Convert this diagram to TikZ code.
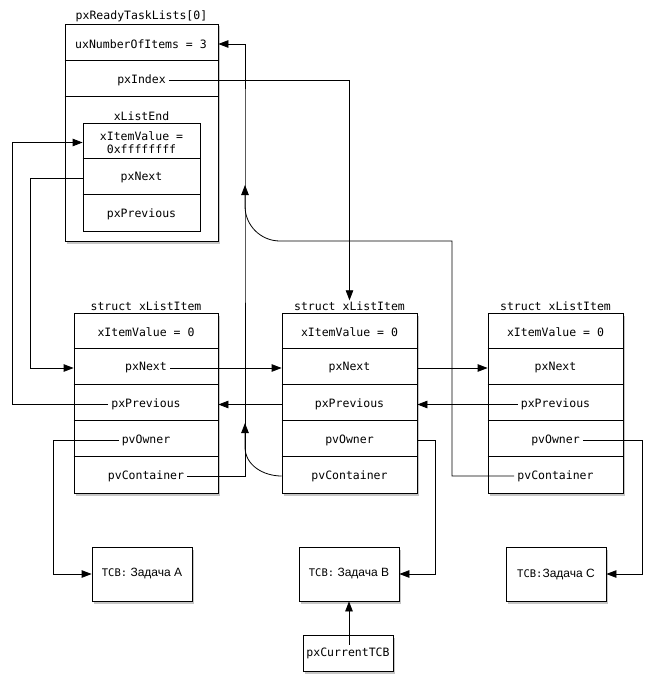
\documentclass[tikz,border=0pt]{standalone}
\usepackage{fontspec}
\setmainfont{Liberation Sans}
\setmonofont{DejaVu Sans Mono}
\usetikzlibrary{positioning, arrows.meta, calc, shadows}
\tikzset{
  box/.style={
    draw, line width=0.8pt, fill=white, inner sep=0pt,
    drop shadow={shadow xshift=1.5pt, shadow yshift=-2.5pt, opacity=0.45}
  },
  inbox/.style={draw, line width=0.8pt, fill=white, inner sep=0pt},
  field/.style={font=\ttfamily\fontsize{11.5}{13}\selectfont, inner xsep=3pt, inner ysep=1pt, align=center},
  caption/.style={field, anchor=south, inner ysep=1.5pt},
  tcb/.style={box, minimum width=100pt, minimum height=54pt, font=\fontsize{12}{14}\selectfont},
  link/.style={line width=0.8pt},
  ptr/.style={line width=0.8pt, -{Triangle[length=10pt, width=7.5pt]}},
}
\newcommand{\tcbtag}{{\ttfamily\fontsize{10.5}{12}\selectfont TCB:}}

\begin{document}
\begin{tikzpicture}[x=1pt, y=-1pt]
  \useasboundingbox (0,0) rectangle (652,695);

  % pxReadyTaskLists[0]
  \node[box, minimum width=153pt, minimum height=217pt] (list) at (141.5,132.5) {};
  \node[caption] (listname) at (list.north) {pxReadyTaskLists[0]};
  \foreach \y in {37,73}
    \draw[link] ($(list.north west)+(0,\y)$) -- ($(list.north east)+(0,\y)$);
  \node[field] (count) at (141,44) {uxNumberOfItems = 3};
  \node[field] (index) at (141.5,80) {pxIndex};

  % xListEnd
  \node[inbox, minimum width=117pt, minimum height=108pt] (lend) at (141.5,177) {};
  \node[caption] (lendname) at (lend.north) {xListEnd};
  \foreach \y in {36,72}
    \draw[link] ($(lend.north west)+(0,\y)$) -- ($(lend.north east)+(0,\y)$);
  \node[field] (lendval) at (141.5,142.5) {xItemValue =\\0xffffffff};
  \node[field] (lendnext) at (141.5,178) {pxNext};
  \node[field] (lendprev) at (141.5,214) {pxPrevious};

  % list items
  \foreach \n/\x/\w in {1/146/144, 2/349.5/135, 3/555.5/135} {
    \node[box, minimum width=\w pt, minimum height=180pt] (item\n) at (\x,403) {};
    \node[caption] (item\n name) at (item\n.north) {struct xListItem};
    \foreach \y in {36,72,108,144}
      \draw[link] ($(item\n.north west)+(0,\y)$) -- ($(item\n.north east)+(0,\y)$);
    \node[field] (val\n) at (\x,332) {xItemValue = 0};
    \node[field] (next\n) at (\x,368) {pxNext};
    \node[field] (prev\n) at (\x,404.5) {pxPrevious};
    \node[field] (owner\n) at (\x,440.5) {pvOwner};
    \node[field] (cont\n) at (\x,476) {pvContainer};
  }

  % tasks
  \node[tcb] (tcbA) at (142,574) {\tcbtag{} Задача A};
  \node[tcb] (tcbB) at (349,574) {\tcbtag{} Задача B};
  \node[tcb] (tcbC) at (556,574) {\tcbtag{}Задача C};
  \node[box, field, minimum width=90pt, minimum height=36pt] (cur) at (348,653) {pxCurrentTCB};

  % rails
  \coordinate (spine) at (245,132.5);
  \coordinate (nextrail) at (30,368);
  \coordinate (prevrail) at (12,142.5);
  \coordinate (c3turn) at (452,241);
  \coordinate (c3bend) at (280,241);
  \coordinate (c3rise) at (245,206);
  \coordinate (c3tip) at (245,185);
  \coordinate (c2rise) at (245,447);
  \coordinate (c2tip) at (245,423);
  \coordinate (ownrailA) at (53,574);
  \coordinate (ownrailB) at (435,574);
  \coordinate (ownrailC) at (642,574);

  \draw[ptr] (index.east) -| (item2name.north);
  \draw[ptr] (cont1.east) -| (spine) |- (count -| list.east);
  \draw[ptr] (cont3.west) -| (c3turn) -- (c3bend) to[out=180, in=-90] (c3rise) -- (c3tip);
  \draw[ptr] (item2.west |- cont2) to[out=180, in=-90] (c2rise) -- (c2tip);
  \draw[ptr] (lend.west |- lendnext) -| (nextrail) -- (item1.west |- next1);
  \draw[ptr] (prev1.west) -| (prevrail) -- (lend.west |- lendval);
  \draw[ptr] (next1.east) -- (item2.west |- next1);
  \draw[ptr] (item2.east |- next2) -- (item3.west |- next3);
  \draw[ptr] (item2.west |- prev2) -- (item1.east |- prev1);
  \draw[ptr] (prev3.west) -- (item2.east |- prev2);
  \draw[ptr] (owner1.west) -| (ownrailA) -- (tcbA.west);
  \draw[ptr] (item2.east |- owner2) -| (ownrailB) -- (tcbB.east);
  \draw[ptr] (owner3.east) -| (ownrailC) -- (tcbC.east);
  \draw[ptr] ($(tcbB.south |- cur.north)+(0,10)$) -- (tcbB.south);
\end{tikzpicture}
\end{document}
